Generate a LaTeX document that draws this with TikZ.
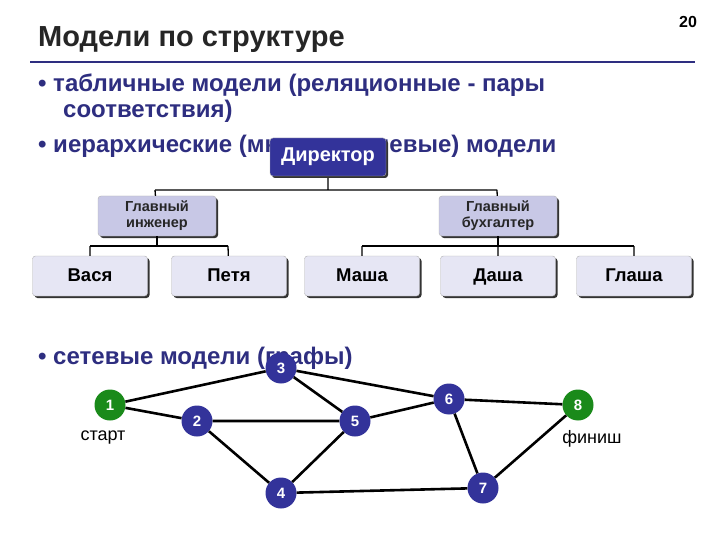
\documentclass[tikz,border=0pt]{standalone}
\usepackage{fontspec}
\setmainfont{Liberation Sans}
\usetikzlibrary{shadows}
\definecolor{dblue}{HTML}{2E2E80}
\definecolor{nblue}{HTML}{33339A}
\definecolor{ngreen}{HTML}{1A8A1A}
\definecolor{lav}{HTML}{C8C8E6}
\definecolor{lav2}{HTML}{E6E6F4}
\begin{document}
\begin{tikzpicture}[x=1pt,y=-1pt,
 bul/.style={anchor=west,font=\bfseries\fontsize{24}{26}\selectfont,text=dblue,inner sep=0},
 boxbase/.style={rounded corners=3pt,draw=gray!60,minimum height=40pt,align=center,
   drop shadow={shadow xshift=2pt,shadow yshift=-2pt,fill=black!80,opacity=1}},
 leaf/.style={boxbase,fill=lav2,minimum width=115pt,text height=13pt,text depth=3pt,font=\bfseries\fontsize{18.5}{20}\selectfont},
 mid/.style={boxbase,fill=lav,minimum width=118pt,font=\bfseries\fontsize{14.5}{16}\selectfont,text=black!85},
 top/.style={boxbase,fill=nblue,minimum width=116pt,minimum height=38pt,text=white,font=\bfseries\fontsize{20}{22}\selectfont},
 gn/.style={circle,minimum size=31pt,inner sep=0,fill=nblue,text=white,font=\bfseries\fontsize{15}{17}\selectfont},
 gg/.style={gn,fill=ngreen},
 edge/.style={line width=2.6pt,black}]
\useasboundingbox[fill=white] (0,0) rectangle (720,540);
\node[anchor=west,font=\bfseries\fontsize{29}{32}\selectfont,text=black!85,inner sep=0] (title) at (38,40) {Модели по структуре};
\node[font=\bfseries\fontsize{16}{18}\selectfont,inner sep=0] (pg) at (688,22) {20};
\draw[dblue,line width=1.5pt] (30,62) -- (695,62);
\node[bul] (b1) at (38,85) {• табличные модели (реляционные - пары};
\node[bul] (b1b) at (63,111) {соответствия)};
\node[bul] (b2) at (38,146) {• иерархические (многоуровневые) модели};
\node[bul] (b3) at (38,358) {• сетевые модели (графы)};
% hierarchy
\coordinate (j0) at (328,190);
\coordinate (j0l) at (155,190);
\coordinate (j0r) at (497,190);
\coordinate (jl) at (157,246);
\coordinate (jll) at (90,246);
\coordinate (jlr) at (228,246);
\coordinate (jr) at (498,246);
\coordinate (jrl) at (362,246);
\coordinate (jrr) at (634,246);
\node[mid] (gi) at (157,216) {Главный\\инженер};
\node[mid] (gb) at (498,216) {Главный\\бухгалтер};
\draw[line width=1.3pt] (328,176) -- (j0) (j0l) -- (j0r) (j0l) -- (gi) (j0r) -- (gb);
\draw[line width=1.3pt] (gi) -- (jl) (jll) -- (jlr) (gb) -- (jr) (jrl) -- (jrr);
\node[leaf] (v) at (90,276) {Вася};
\node[leaf] (p) at (229,276) {Петя};
\node[leaf] (m) at (362,276) {Маша};
\node[leaf] (d) at (498,276) {Даша};
\node[leaf] (g) at (634,276) {Глаша};
\draw[line width=1.3pt] (jll) -- (v) (jlr) -- (p) (jrl) -- (m) (jr) -- (d) (jrr) -- (g);
\node[top] (dir) at (328,157) {Директор};
% graph
\node[gg] (n1) at (110,405) {1};
\node[gn] (n2) at (197,421) {2};
\node[gn] (n3) at (281,368) {3};
\node[gn] (n4) at (281,493) {4};
\node[gn] (n5) at (355,421) {5};
\node[gn] (n6) at (449,399) {6};
\node[gn] (n7) at (483,488) {7};
\node[gg] (n8) at (578,405) {8};
\draw[edge] (n1)--(n3) (n1)--(n2) (n3)--(n6) (n3)--(n5) (n2)--(n5) (n2)--(n4) (n4)--(n5) (n5)--(n6) (n6)--(n8) (n6)--(n7) (n4)--(n7) (n7)--(n8);
\node[font=\fontsize{18}{20}\selectfont,inner sep=0] (st) at (103,438) {старт};
\node[font=\fontsize{18}{20}\selectfont,inner sep=0] (fi) at (592,439) {финиш};
\end{tikzpicture}
\end{document}
